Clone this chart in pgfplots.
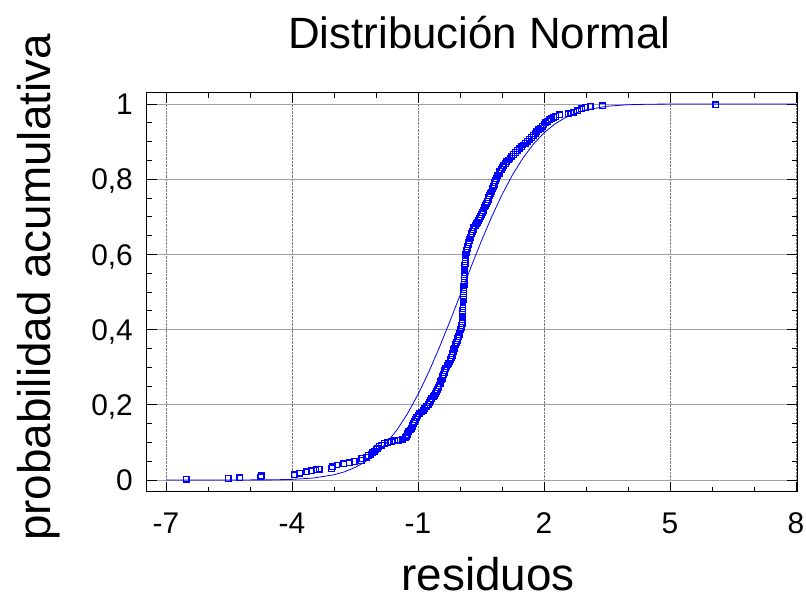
\documentclass[border=0pt]{standalone}
\usepackage{pgfplots}
\pgfplotsset{compat=1.18}
\usepackage{fontspec}
\setmainfont{Liberation Sans}
\definecolor{ptblue}{RGB}{0,0,255}
\definecolor{hgrid}{RGB}{160,160,160}
\definecolor{vgrid}{RGB}{120,120,120}
\begin{document}
\begin{tikzpicture}[x=1bp,y=1bp]
\path[use as bounding box] (0,0) rectangle (806,-598);
\begin{axis}[
  at={(146.7bp,-491.7bp)}, anchor=south west,
  scale only axis, width=650.6bp, height=399bp,
  xmin=-7.46, xmax=8.03, ymin=-0.031, ymax=1.030,
  xtick={-7,-4,-1,2,5,8},
  xticklabels={-7,-4,-1,2,5,8},
  ytick={0,0.2,0.4,0.6,0.8,1},
  yticklabels={0,{0,2},{0,4},{0,6},{0,8},1},
  minor x tick num=2, minor y tick num=3,
  tick align=inside, major tick length=10bp, minor tick length=5bp,
  tick style={black, line width=0.8bp},
  axis line style={black, line width=1.2bp},
  xmajorgrids, ymajorgrids,
  x grid style={vgrid, densely dotted, line width=0.8bp},
  y grid style={hgrid, line width=0.9bp},
  ticklabel style={font=\fontsize{30}{34}\selectfont, inner sep=0pt},
  xticklabel style={anchor=base, yshift=-41.6bp},
  yticklabel style={anchor=base east, xshift=-13.7bp, yshift=-10.7bp},
  title={Distribución Normal},
  title style={font=\fontsize{44}{48}\selectfont, at={(axis description cs:0.5114,1.097)}, anchor=base, yshift=0pt, inner sep=0pt},
  xlabel={residuos},
  xlabel style={font=\fontsize{46}{50}\selectfont, at={(axis description cs:0.5246,-0.2464)}, anchor=base, inner sep=0pt},
  ylabel={probabilidad acumulativa},
  ylabel style={font=\fontsize{46}{50}\selectfont, at={(axis description cs:-0.166,0.5118)}, anchor=center, inner sep=0pt},
  clip=true,
]
% fitted normal curve
\addplot[ptblue, line width=0.8bp, no markers] table {
x y
-7 0
-4.5 0.0005
-4 0.0018
-3.5 0.0053
-3 0.014
-2.75 0.022
-2.5 0.0334
-2.25 0.0493
-2 0.0707
-1.75 0.0985
-1.5 0.1337
-1.25 0.1768
-1 0.2278
-0.75 0.286
-0.5 0.3505
-0.25 0.4196
0 0.4913
0.25 0.5633
0.5 0.6334
0.75 0.6991
1 0.759
1.25 0.8117
1.5 0.8566
1.75 0.8937
2 0.9233
2.25 0.9462
2.5 0.9633
2.75 0.9756
3 0.9843
3.5 0.994
4 0.998
4.5 0.9994
5 0.9998
6 1
8 1
};
% empirical cumulative probabilities
\addplot[ptblue, only marks, mark=square, mark size=2.8bp, mark options={line width=1.3bp, solid}] table {
x y
-6.52 0.002
-5.52 0.004
-5.24 0.006
-4.75 0.008
-4.73 0.011
-3.95 0.014
-3.82 0.018
-3.65 0.022
-3.53 0.025
-3.43 0.027
-3.35 0.029
-3.06 0.031
-3.04 0.035
-2.93 0.040
-2.77 0.043
-2.64 0.046
-2.52 0.049
-2.35 0.052
-2.34 0.057
-2.22 0.061
-2.18 0.065
-2.12 0.069
-2.08 0.073
-2.03 0.077
-2.00 0.081
-1.97 0.085
-1.93 0.089
-1.87 0.093
-1.80 0.097
-1.72 0.100
-1.63 0.102
-1.55 0.104
-1.47 0.106
-1.38 0.109
-1.30 0.113
-1.27 0.117
-1.26 0.121
-1.25 0.125
-1.22 0.129
-1.19 0.133
-1.15 0.137
-1.14 0.141
-1.125 0.146
-1.11 0.151
-1.09 0.156
-1.06 0.161
-1.03 0.166
-1.00 0.171
-0.97 0.176
-0.92 0.181
-0.88 0.186
-0.84 0.191
-0.79 0.196
-0.76 0.201
-0.73 0.206
-0.70 0.211
-0.67 0.216
-0.64 0.221
-0.61 0.226
-0.59 0.231
-0.57 0.236
-0.54 0.241
-0.52 0.246
-0.50 0.251
-0.47 0.256
-0.46 0.261
-0.44 0.266
-0.42 0.271
-0.41 0.276
-0.39 0.281
-0.37 0.286
-0.36 0.291
-0.34 0.296
-0.31 0.301
-0.29 0.306
-0.27 0.311
-0.24 0.316
-0.22 0.321
-0.21 0.326
-0.19 0.331
-0.18 0.336
-0.16 0.341
-0.15 0.346
-0.13 0.351
-0.12 0.356
-0.10 0.361
-0.08 0.366
-0.06 0.371
-0.05 0.376
-0.03 0.381
-0.02 0.386
-0.01 0.391
0.00 0.396
0.01 0.401
0.03 0.406
0.04 0.411
0.05 0.416
0.05 0.421
0.05 0.426
0.06 0.431
0.06 0.436
0.06 0.441
0.06 0.446
0.06 0.451
0.07 0.456
0.07 0.461
0.07 0.466
0.07 0.471
0.07 0.476
0.08 0.481
0.08 0.486
0.08 0.491
0.08 0.496
0.08 0.501
0.09 0.506
0.09 0.511
0.09 0.516
0.10 0.521
0.10 0.526
0.10 0.531
0.10 0.536
0.10 0.541
0.10 0.546
0.11 0.551
0.11 0.556
0.11 0.561
0.11 0.566
0.11 0.571
0.12 0.576
0.12 0.581
0.13 0.586
0.13 0.591
0.14 0.596
0.14 0.601
0.15 0.606
0.16 0.611
0.17 0.616
0.18 0.621
0.20 0.626
0.21 0.631
0.22 0.636
0.23 0.641
0.25 0.646
0.26 0.651
0.28 0.656
0.29 0.661
0.31 0.666
0.33 0.671
0.36 0.676
0.39 0.681
0.41 0.686
0.44 0.691
0.46 0.696
0.48 0.701
0.51 0.706
0.53 0.711
0.55 0.716
0.57 0.721
0.59 0.726
0.61 0.731
0.63 0.736
0.65 0.741
0.67 0.746
0.68 0.751
0.70 0.756
0.72 0.761
0.74 0.766
0.76 0.771
0.78 0.776
0.79 0.781
0.81 0.786
0.83 0.791
0.84 0.796
0.86 0.801
0.88 0.806
0.90 0.811
0.93 0.816
0.95 0.821
0.98 0.826
1.01 0.831
1.04 0.836
1.08 0.841
1.11 0.846
1.15 0.851
1.19 0.856
1.23 0.861
1.27 0.866
1.32 0.871
1.36 0.876
1.41 0.881
1.46 0.886
1.50 0.891
1.55 0.896
1.60 0.901
1.65 0.906
1.70 0.911
1.74 0.916
1.79 0.921
1.83 0.926
1.87 0.931
1.92 0.936
1.96 0.941
2.00 0.945
2.04 0.950
2.08 0.954
2.13 0.958
2.17 0.961
2.23 0.964
2.28 0.967
2.37 0.971
2.58 0.974
2.64 0.976
2.70 0.978
2.80 0.982
2.89 0.987
2.99 0.991
3.10 0.9935
3.39 0.9955
6.09 0.998
};
\end{axis}
\end{tikzpicture}
\end{document}
